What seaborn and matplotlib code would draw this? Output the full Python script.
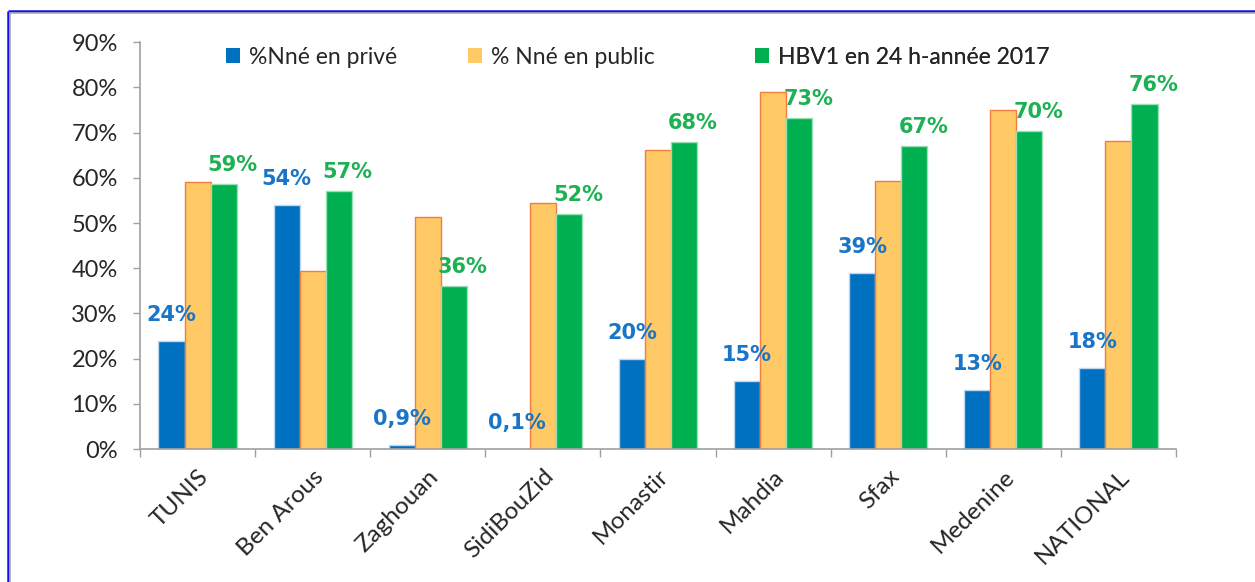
import numpy as np
import pandas as pd
import matplotlib
matplotlib.use("Agg")
import matplotlib.pyplot as plt
import matplotlib.transforms as mtransforms
from matplotlib.lines import Line2D
from matplotlib.ticker import FixedLocator, PercentFormatter
import seaborn as sns

regions = ["TUNIS", "Ben Arous", "Zaghouan", "SidiBouZid", "Monastir",
           "Mahdia", "Sfax", "Medenine", "NATIONAL"]
series_names = ["%Nné en privé", "% Nné en public", "HBV1 en 24 h-année 2017"]
prive = [24, 54, 0.9, 0.1, 20, 15, 39, 13, 18]
public = [59.0, 39.5, 51.4, 54.4, 66.1, 79.0, 59.3, 75.0, 68.1]
hbv1 = [58.7, 57.0, 36.0, 52.0, 68.0, 73.2, 67.0, 70.3, 76.4]
prive_labels = ["24%", "54%", "0,9%", "0,1%", "20%", "15%", "39%", "13%", "18%"]
hbv1_labels = ["59%", "57%", "36%", "52%", "68%", "73%", "67%", "70%", "76%"]
yticks = [0, 10, 20, 30, 40, 50, 60, 70, 80, 90]

colors = ["#0070C0", "#FFC966", "#00B050"]
edges = ["#BDD7EE", "#F47C3C", "#9BE0B4"]
label_colors = ["#1A75C9", None, "#1DB154"]

df = pd.DataFrame({
    "region": regions * 3,
    "series": [series_names[0]] * 9 + [series_names[1]] * 9 + [series_names[2]] * 9,
    "value": prive + public + hbv1,
})

sns.set_theme(style="white")
plt.rcParams["font.family"] = ["Lato", "DejaVu Sans"]

W, H = 1255, 582
fig = plt.figure(figsize=(12.55, 5.82), dpi=100)
ax = fig.add_axes([140 / W, 1 - 449 / H, (1176 - 140) / W, (449 - 42.3) / H])

sns.barplot(data=df, x="region", y="value", hue="series", order=regions,
            hue_order=series_names, palette=colors, width=0.68,
            saturation=1, ax=ax, legend=True)

for cont, ec in zip(ax.containers, edges):
    for bar in cont:
        bar.set_edgecolor(ec)
        bar.set_linewidth(1.0)

# data labels
for cont, labs, col, dx, dy in [(ax.containers[0], prive_labels, label_colors[0], 0, 16),
                                (ax.containers[2], hbv1_labels, label_colors[2], 9, 9)]:
    for bar, txt in zip(cont, labs):
        ax.annotate(txt, (bar.get_x() + bar.get_width() / 2, bar.get_height()),
                    xytext=(dx * 0.72, dy * 0.72), textcoords="offset points",
                    ha="center", va="bottom", color=col, fontsize=15,
                    fontweight="bold", family=["DejaVu Sans"])

ax.set_ylim(0, 90)
ax.set_xlim(-0.5, len(regions) - 0.5)
ax.yaxis.set_major_locator(FixedLocator(yticks))
ax.yaxis.set_major_formatter(PercentFormatter(decimals=0))
ax.set_xlabel("")
ax.set_ylabel("")

ax.set_xticks(range(len(regions)))
ax.set_xticklabels(regions, rotation=45, ha="right", rotation_mode="anchor",
                   fontsize=17.5, color="#262626")
shift = mtransforms.ScaledTranslation(-6 / 100, 0, fig.dpi_scale_trans)
for lab in ax.get_xticklabels():
    lab.set_transform(lab.get_transform() + shift)
ax.set_xticks(np.arange(-0.5, len(regions)), minor=True)
ax.tick_params(axis="x", which="major", length=0, pad=12)
ax.tick_params(axis="x", which="minor", length=6, width=1, color="#A0A0A0",
               direction="out", bottom=True)
ax.tick_params(axis="y", which="major", length=5, width=1, color="#A0A0A0",
               direction="out", left=True, labelsize=17, labelcolor="#262626", pad=11)

for s in ["top", "right"]:
    ax.spines[s].set_visible(False)
for s in ["left", "bottom"]:
    ax.spines[s].set_color("#A0A0A0")
    ax.spines[s].set_linewidth(1.2)

# legend: one entry per column position, as in the reference
handles, labels = ax.get_legend_handles_labels()
ax.get_legend().remove()
for h, l, x0 in zip(handles, labels, [226, 468, 755]):
    lg = ax.legend([h], [l], loc="center left", bbox_to_anchor=(x0 / W, 1 - 57 / H),
                   bbox_transform=fig.transFigure, frameon=False,
                   fontsize=16.5, handlelength=0.6, handleheight=0.6,
                   handletextpad=0.4, labelcolor="#262626",
                   borderpad=0, borderaxespad=0)
    for hh in lg.legend_handles:
        hh.set_edgecolor("none")
    ax.add_artist(lg)

# outer frame (blue with gray inner line)
fig.add_artist(Line2D([8 / W, 8 / W], [0, 1 - 11 / H], transform=fig.transFigure,
                      color="#1010F0", lw=1.8, solid_capstyle="butt"))
fig.add_artist(Line2D([8 / W, 1], [1 - 11 / H, 1 - 11 / H], transform=fig.transFigure,
                      color="#1010F0", lw=1.8, solid_capstyle="butt"))
fig.add_artist(Line2D([10 / W, 10 / W], [0, 1 - 13 / H], transform=fig.transFigure,
                      color="#A8A8A8", lw=1.2))
fig.add_artist(Line2D([10 / W, 1], [1 - 13 / H, 1 - 13 / H], transform=fig.transFigure,
                      color="#A8A8A8", lw=1.2))

fig.savefig("out.png", dpi=100)
